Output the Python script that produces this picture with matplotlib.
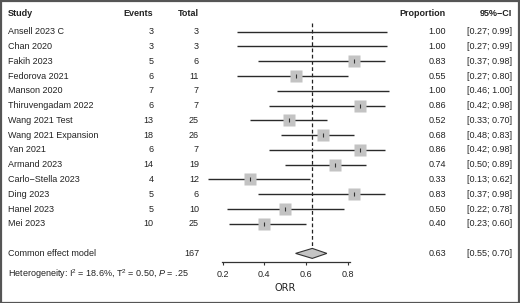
import numpy as np
import matplotlib
matplotlib.use("Agg")
import matplotlib.pyplot as plt
import matplotlib.transforms as mtransforms
from matplotlib.patches import Polygon, Rectangle

plt.rcParams['font.family'] = ['Liberation Sans', 'DejaVu Sans']
plt.rcParams['mathtext.fontset'] = 'custom'
plt.rcParams['mathtext.rm'] = 'Liberation Sans'
plt.rcParams['mathtext.it'] = 'Liberation Sans:italic'

# ---- data ----
studies = ["Ansell 2023 C", "Chan 2020", "Fakih 2023", "Fedorova 2021", "Manson 2020",
           "Thiruvengadam 2022", "Wang 2021 Test", "Wang 2021 Expansion", "Yan 2021",
           "Armand 2023", "Carlo\u2212Stella 2023", "Ding 2023", "Hanel 2023", "Mei 2023"]
events = [3, 3, 5, 6, 7, 6, 13, 18, 6, 14, 4, 5, 5, 10]
totals = [3, 3, 6, 11, 7, 7, 25, 26, 7, 19, 12, 6, 10, 25]
prop = [1.00, 1.00, 0.83, 0.55, 1.00, 0.86, 0.52, 0.68, 0.86, 0.74, 0.33, 0.83, 0.50, 0.40]
ci_lo = [0.27, 0.27, 0.37, 0.27, 0.46, 0.42, 0.33, 0.48, 0.42, 0.50, 0.13, 0.37, 0.22, 0.23]
ci_hi = [0.99, 0.99, 0.98, 0.80, 1.00, 0.98, 0.70, 0.83, 0.98, 0.89, 0.62, 0.98, 0.78, 0.60]
pooled_label = "Common effect model"
pooled_total = 167
pooled_est, pooled_lo, pooled_hi = 0.63, 0.55, 0.70
het_text = r"Heterogeneity: I$^2$ = 18.6%, T$^2$ = 0.50, $P$ = .25"
xticks = [0.2, 0.4, 0.6, 0.8]
xlabel = "ORR"

# ---- layout (pixels) ----
W, H = 520, 303
fig = plt.figure(figsize=(W / 100, H / 100), dpi=100)
fig.patch.set_facecolor('white')

px_per_unit = 208.3
x02 = 222.7
xl, xr = 0.1, 1.0
ax_left = x02 + (xl - 0.2) * px_per_unit
ax_right = x02 + (xr - 0.2) * px_per_unit
ax_top, ax_bot = 20.0, 262.0
ax = fig.add_axes([ax_left / W, 1 - ax_bot / H, (ax_right - ax_left) / W, (ax_bot - ax_top) / H])
ax.set_xlim(xl, xr)
ax.set_ylim(ax_bot, ax_top)   # y in pixel rows from top
ax.patch.set_alpha(0)

row0, dy = 31.7, 14.78
n = len(studies)
ys = row0 + dy * np.arange(n)
y_pool = row0 + dy * (n + 1)
y_head = 13.5

txtc = '#222222'
fs = 6.5

# CI lines
for y, lo, hi in zip(ys, ci_lo, ci_hi):
    ax.plot([lo, hi], [y, y], color='#2a2a2a', lw=1.0, clip_on=False, solid_capstyle='butt', zorder=2)
# squares + center ticks
p = np.array(prop)
show = p < 1.0
ax.plot(p[show], ys[show], 's', ms=8.0, mfc='#c3c3c3', mec='none', zorder=3, clip_on=False)
ax.plot(p[show], ys[show], '|', ms=3.0, mew=0.8, color='#333333', zorder=4, clip_on=False)

# pooled diamond
dh = 5.0
diamond = Polygon([[pooled_lo, y_pool], [pooled_est, y_pool - dh], [pooled_hi, y_pool], [pooled_est, y_pool + dh]],
                  closed=True, facecolor='#c4c4c4', edgecolor='#333333', lw=0.8, zorder=3, clip_on=False)
ax.add_patch(diamond)
# dashed vertical line at pooled estimate
ax.plot([pooled_est, pooled_est], [22.5, y_pool - dh], color='#222222', lw=0.9, ls=(0, (3, 2)), zorder=1)

# axis styling
for s in ['top', 'right', 'left']:
    ax.spines[s].set_visible(False)
ax.spines['bottom'].set_bounds(0.195, 0.81)
ax.spines['bottom'].set_color('#333333')
ax.spines['bottom'].set_linewidth(0.9)
ax.set_yticks([])
ax.set_xticks(xticks)
ax.set_xticklabels([f"{t:.1f}" for t in xticks])
ax.tick_params(axis='x', direction='out', length=2.5, width=0.8, color='#333333',
               labelsize=fs, labelcolor=txtc, pad=3)

# text columns (x in figure pixels, y in data rows)
def tx(xpx, y, s, ha='left', **kw):
    tr = mtransforms.blended_transform_factory(fig.transFigure, ax.transData)
    ax.text(xpx / W, y, s, transform=tr, ha=ha, va='center', fontsize=fs, color=txtc,
            clip_on=False, **kw)

x_study, x_ev, x_tot, x_prop, x_ci = 8, 153.5, 199, 446, 512
tx(x_study, y_head, "Study", fontweight='bold')
tx(x_ev, y_head, "Events", ha='right', fontweight='bold')
tx(x_tot, y_head, "Total", ha='right', fontweight='bold')
tx(x_prop, y_head, "Proportion", ha='right', fontweight='bold')
tx(x_ci, y_head, "95%\u2212CI", ha='right', fontweight='bold')

for y, s, e, t, pr, lo, hi in zip(ys, studies, events, totals, prop, ci_lo, ci_hi):
    tx(x_study, y, s)
    tx(x_ev, y, f"{e}", ha='right')
    tx(x_tot, y, f"{t}", ha='right')
    tx(x_prop, y, f"{pr:.2f}", ha='right')
    tx(x_ci, y, f"[{lo:.2f}; {hi:.2f}]", ha='right')

tx(x_study, y_pool, pooled_label)
tx(x_tot, y_pool, f"{pooled_total}", ha='right')
tx(x_prop, y_pool, f"{pooled_est:.2f}", ha='right')
tx(x_ci, y_pool, f"[{pooled_lo:.2f}; {pooled_hi:.2f}]", ha='right')

# heterogeneity & x label (below axes, pixel-based)
fig.text(x_study / W, 1 - 274.5 / H, het_text, ha='left', va='center', fontsize=fs, color=txtc)
ax.text(0.5, 1 - 288 / H, xlabel, transform=mtransforms.blended_transform_factory(ax.transData, fig.transFigure),
        ha='center', va='center', fontsize=7, color=txtc,
        family=['Liberation Sans Narrow', 'DejaVu Sans Condensed', 'DejaVu Sans'])

# frame around figure
fig.patches.append(Rectangle((0.5 / W, 0.5 / H), 1 - 1.5 / W, 1 - 1.5 / H, transform=fig.transFigure,
                             fill=False, edgecolor='#555555', lw=1.6, zorder=10))

fig.savefig("out.png", dpi=100)
